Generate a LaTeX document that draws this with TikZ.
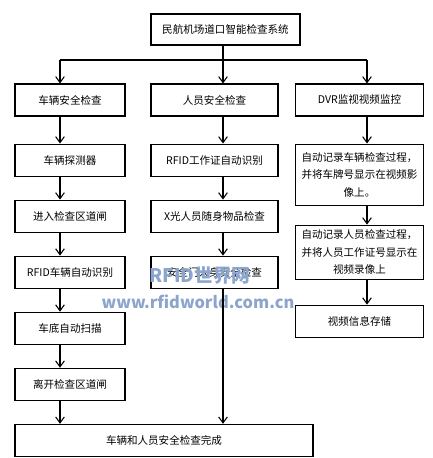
\documentclass[tikz,border=0pt]{standalone}
\usepackage{fontspec}
\setmainfont{Noto Sans CJK SC}
\usepackage{xcolor}
\usetikzlibrary{arrows.meta, positioning}
\definecolor{wmblue}{RGB}{140,165,205}

\begin{document}
\begin{tikzpicture}[
    x=0.03cm, y=-0.03cm,
    node distance=0.69cm,
    box/.style={rectangle, draw=black, line width=0.9pt, align=center, minimum height=0.96cm, inner sep=2pt, font=\fontsize{9}{15}\selectfont},
    carbox/.style={box, minimum width=3.3cm},
    manbox/.style={box, minimum width=3.81cm},
    cambox/.style={box, minimum width=3.84cm},
    wire/.style={draw=black, line width=0.9pt},
    line/.style={wire, -{Straight Barb[length=1.8mm, width=2.6mm]}},
    wmark/.style={text=wmblue, font=\bfseries}
]
\useasboundingbox (0,0) rectangle (433,458);

% Nodes
\node[box, minimum width=4.47cm, minimum height=0.93cm] (sys) at (225.5,29.5) {民航机场道口智能检查系统};

\node[carbox] (car) at (70,100) {车辆安全检查};
\node[manbox] (man) at (214.5,100) {人员安全检查};
\node[cambox] (dvr) at (359.5,100) {DVR监视视频监控};

\node[carbox, below=0.81cm of car] (detect) {车辆探测器};
\node[carbox, below=of detect] (entry) {进入检查区道闸};
\node[carbox, below=of entry] (carid) {RFID车辆自动识别};
\node[carbox, below=of carid] (scan) {车底自动扫描};
\node[carbox, below=of scan] (exit) {离开检查区道闸};
\node[box, minimum width=8.94cm, below=of exit.south west, anchor=north west] (done) {车辆和人员安全检查完成};

\node[manbox, below=0.81cm of man] (staffid) {RFID工作证自动识别};
\node[manbox, below=of staffid] (xray) {X光人员随身物品检查};
\node[manbox, below=of xray] (gate) {安全门人身安全检查};

\node[cambox, minimum height=1.83cm, below=0.81cm of dvr] (carrec) {自动记录车辆检查过程，\\并将车牌号显示在视频影\\像上。};
\node[cambox, minimum height=1.62cm, below=0.57cm of carrec] (manrec) {自动记录人员检查过程，\\并将人员工作证号显示在\\视频录像上};
\node[cambox, below=0.75cm of manrec] (store) {视频信息存储};

% watermark
\node[wmark, font=\fontsize{16}{16}\selectfont\bfseries] (wm) at (200,276) {RFID世界网};
\node[wmark, font=\fontsize{14}{14}\selectfont\bfseries] (wmurl) at (198,302) {www.rfidworld.com.cn};

% Arrows
\coordinate (cl) at (60,60);
\coordinate (cm) at (223,60);
\coordinate (cr) at (367,60);

\draw[wire] (sys.south -| cm) -- (cm);
\draw[wire] (cl) -- (cr);
\draw[line] (cl) -- (car.north -| cl);
\draw[line] (cm) -- (man.north -| cm);
\draw[line] (cr) -- (dvr.north -| cr);

\draw[line] (car.south -| cl) -- (detect.north -| cl);
\draw[line] (detect.south -| cl) -- (entry.north -| cl);
\draw[line] (entry.south -| cl) -- (carid.north -| cl);
\draw[line] (carid.south -| cl) -- (scan.north -| cl);
\draw[line] (scan.south -| cl) -- (exit.north -| cl);
\draw[line] (exit.south -| cl) -- (done.north -| cl);

\draw[line] (man.south -| cm) -- (staffid.north -| cm);
\draw[line] (staffid.south -| cm) -- (xray.north -| cm);
\draw[line] (xray.south -| cm) -- (gate.north -| cm);
\draw[line] (gate.south -| cm) -- (done.north -| cm);

\draw[line] (dvr.south -| cr) -- (carrec.north -| cr);
\draw[line] (carrec.south -| cr) -- (manrec.north -| cr);
\draw[line] (manrec.south -| cr) -- (store.north -| cr);

\end{tikzpicture}
\end{document}
